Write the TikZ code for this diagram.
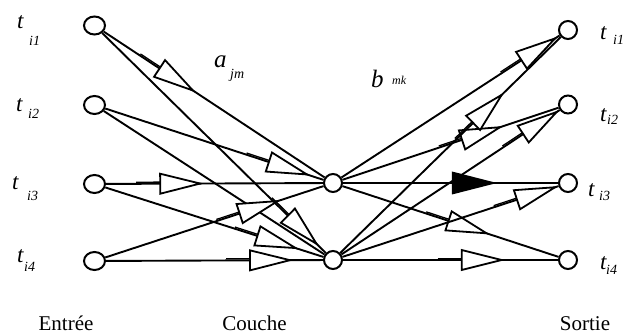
\documentclass[tikz,border=0pt]{standalone}
\usepackage{fontspec}
\setmainfont{Liberation Serif}
\usetikzlibrary{decorations.markings,shapes.geometric}

% open arrow head with a doubled piece of shaft behind it
\newcommand\openhead{%
  \draw[line width=1.8pt, fill=white, line join=miter] (0pt,0pt) -- (-40pt,10pt) -- (-40pt,-10pt) -- cycle;
  \draw[line width=1.3pt] (-64pt,1.6pt) -- (-40pt,1.6pt);}
% solid arrow head
\newcommand\solidhead{%
  \fill (0pt,0pt) -- (-45pt,11.5pt) -- (-45pt,-11.5pt) -- cycle;}

\tikzset{
  inp/.style={ellipse, draw, fill=white, line width=2pt, inner sep=0pt,
    minimum width=21pt, minimum height=18pt},
  unit/.style={circle, draw, fill=white, line width=2pt, inner sep=0pt,
    minimum size=18pt},
  link/.style={line width=1.9pt},
  arr/.style={postaction={decorate, decoration={markings,
    mark=at position #1 with {\openhead}}}},
  farr/.style={postaction={decorate, decoration={markings,
    mark=at position #1 with {\solidhead}}}},
  tt/.style={font=\fontsize{23}{23}\selectfont\itshape, inner sep=0pt, anchor=base west},
  wt/.style={font=\fontsize{25}{25}\selectfont\itshape, inner sep=0pt, anchor=base west},
  sub/.style={font=\fontsize{14}{14}\selectfont\itshape, inner sep=0pt, anchor=base west},
  layercap/.style={font=\fontsize{21}{21}\selectfont, inner sep=0pt, anchor=base},
}

\begin{document}
\begin{tikzpicture}[x=1pt, y=-1pt]
\useasboundingbox (0,0) rectangle (627,336);

% input layer
\node[inp] (i1) at (94.5,25.5) {};
\node[inp] (i2) at (94.5,105) {};
\node[inp] (i3) at (94.5,184) {};
\node[inp] (i4) at (94.5,261) {};
% hidden layer
\node[unit] (m1) at (333,183) {};
\node[unit] (m2) at (333,260) {};
% output layer
\node[unit] (o1) at (568,30) {};
\node[unit] (o2) at (568,104.5) {};
\node[unit] (o3) at (568,183) {};
\node[unit] (o4) at (568,260) {};

% weights a_jm
\draw[link, arr=0.404] (i1) -- (m1);
\draw[link, arr=0.958] (i1) -- (m2);
\draw[link, arr=0.924] (i2) -- (m1);
\draw[link] (i2) -- (m2);
\draw[link, arr=0.434] (i3) -- (m1);
\draw[link, arr=0.872] (i3) -- (m2);
\draw[link, arr=0.79] (i4) -- (m1);
\draw[link, arr=0.848] (i4) -- (m2);
% weights b_mk
\draw[link, arr=0.979] (m1) -- (o1);
\draw[link, arr=0.729] (m1) -- (o2);
\draw[link, farr=0.716] (m1) -- (o3);
\draw[link, arr=0.667] (m1) -- (o4);
\draw[link, arr=0.732] (m2) -- (o1);
\draw[link, arr=0.986] (m2) -- (o2);
\draw[link, arr=0.984] (m2) -- (o3);
\draw[link, arr=0.738] (m2) -- (o4);

% input labels
\node[tt] (ti1) at (17,29) {t};   \node[sub] (si1) at (29,46) {i1};
\node[tt] (ti2) at (16,112) {t};  \node[sub] (si2) at (28,119) {i2};
\node[tt] (ti3) at (12,190) {t};  \node[sub] (si3) at (27,201) {i3};
\node[tt] (ti4) at (17,263) {t};  \node[sub] (si4) at (24,272) {i4};
% output labels
\node[tt] (to1) at (600,40) {t};  \node[sub] (so1) at (613,45) {i1};
\node[tt] (to2) at (600,122) {t}; \node[sub] (so2) at (607,125) {i2};
\node[tt] (to3) at (588,197) {t}; \node[sub] (so3) at (599,201) {i3};
\node[tt] (to4) at (600,270) {t}; \node[sub] (so4) at (606,275) {i4};
% weight labels
\node[wt] (la) at (214,68) {a};   \node[sub] (lajm) at (230,79) {jm};
\node[wt] (lb) at (371,88) {b};   \node[sub, font=\fontsize{12}{12}\selectfont\itshape] (lbmk) at (392,85) {mk};
% layer captions
\node[layercap] (c1) at (66,331) {Entrée};
\node[layercap] (c2) at (254.5,331) {Couche};
\node[layercap] (c3) at (585,331) {Sortie};
\end{tikzpicture}
\end{document}
